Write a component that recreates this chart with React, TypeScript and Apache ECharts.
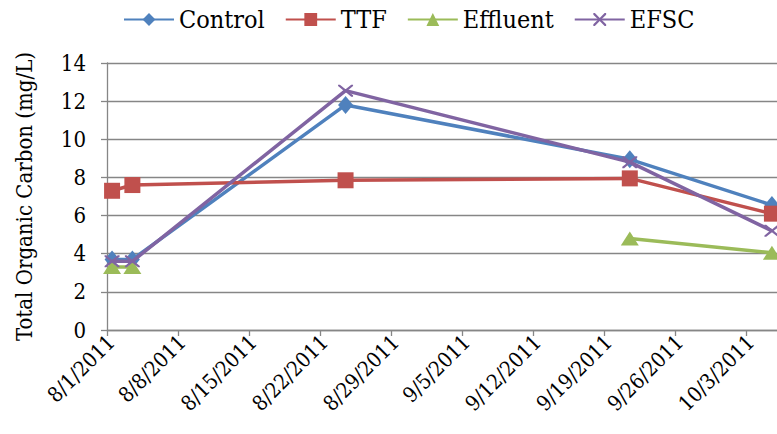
import React, { useEffect, useRef } from "react";
import * as echarts from "echarts";

// Sampling dates
const dates = ["2011-08-01", "2011-08-03", "2011-08-24", "2011-09-21", "2011-10-05"];
// Series values (mg/L)
const control = [3.7, 3.7, 11.8, 8.95, 6.55];
const ttf = [7.3, 7.6, 7.85, 7.95, 6.1];
const effluent: (number | null)[] = [3.3, 3.3, null, 4.8, 4.05];
const efsc = [3.6, 3.6, 12.55, 8.8, 5.2];

const seriesNames = ["Control", "TTF", "Effluent", "EFSC"];
const colors = ["#4F81BD", "#C0504D", "#9BBB59", "#8064A2"];
const yTitle = "Total Organic Carbon (mg/L)";
const axisStart = "2011-08-01";
const axisDays = 66;
const tickDays = 7;

const DAY = 86400000;
const parse = (s: string) => {
  const [y, m, d] = s.split("-").map(Number);
  return Date.UTC(y, m - 1, d);
};
const base = parse(axisStart);
const xOf = (s: string) => (parse(s) - base) / DAY + 0.5;
const fmt = (v: number) => {
  const d = new Date(base + Math.round(v) * DAY);
  return `${d.getUTCMonth() + 1}/${d.getUTCDate()}/${d.getUTCFullYear()}`;
};

const XSYM =
  "path://M0,0L1.2,0L5,3.8L8.8,0L10,0L10,1.2L6.2,5L10,8.8L10,10L8.8,10L5,6.2L1.2,10L0,10L0,8.8L3.8,5L0,1.2Z";

const FONT = "DejaVu Serif Condensed";

export default function App() {
  const ref = useRef<HTMLDivElement>(null);
  useEffect(() => {
    if (!ref.current) return;
    const chart = echarts.init(ref.current, undefined, { renderer: "svg" });
    const valuesList = [control, ttf, effluent, efsc];
    const symbols = ["diamond", "rect", "triangle", XSYM];
    const sizes: any[] = [[15, 18], [16, 16], [18, 14], [15, 12]];
    chart.setOption({
      animation: false,
      color: colors,
      textStyle: { fontFamily: FONT },
      legend: {
        top: 2,
        left: 118,
        itemWidth: 50,
        itemHeight: 16,
        itemGap: 20,
        textStyle: { fontSize: 25, color: "#000", fontFamily: FONT },
        data: seriesNames,
      },
      grid: { left: 107, top: 63, width: 672, height: 267, containLabel: false },
      xAxis: {
        type: "value",
        min: 0,
        max: axisDays,
        interval: tickDays,
        axisLine: { show: true, lineStyle: { color: "#868686", width: 1.3 } },
        axisTick: { show: true, length: 6, lineStyle: { color: "#868686", width: 1.3 } },
        splitLine: { show: false },
        axisLabel: {
          rotate: 45,
          margin: 13,
          padding: [0, -6, 0, 0],
          fontSize: 21,
          color: "#000",
          fontFamily: FONT,
          showMaxLabel: false,
          formatter: (v: number) => fmt(v),
        },
      },
      yAxis: {
        type: "value",
        min: 0,
        max: 14,
        interval: 2,
        name: yTitle,
        nameLocation: "middle",
        nameGap: 72,
        nameTextStyle: { fontSize: 22, color: "#000", fontFamily: FONT },
        axisLine: { show: true, lineStyle: { color: "#868686", width: 1.3 } },
        axisTick: { show: true, length: 6, lineStyle: { color: "#868686", width: 1.3 } },
        splitLine: { show: true, lineStyle: { color: "#868686", width: 1.3 } },
        axisLabel: { fontSize: 22, color: "#000", margin: 21, fontFamily: FONT },
      },
      series: seriesNames.map((name, i) => ({
        name,
        type: "line",
        data: dates.map((d, j) => [xOf(d), valuesList[i][j] ?? null]),
        connectNulls: false,
        symbol: symbols[i],
        symbolSize: sizes[i],
        showAllSymbol: true,
        lineStyle: { width: 3.5, color: colors[i] },
        itemStyle: { color: colors[i] },
        z: 2 + i,
      })),
    });
    return () => chart.dispose();
  }, []);
  return (
    <div
      ref={ref}
      style={{ position: "absolute", left: 0, top: 0, width: 777, height: 434 }}
    />
  );
}
